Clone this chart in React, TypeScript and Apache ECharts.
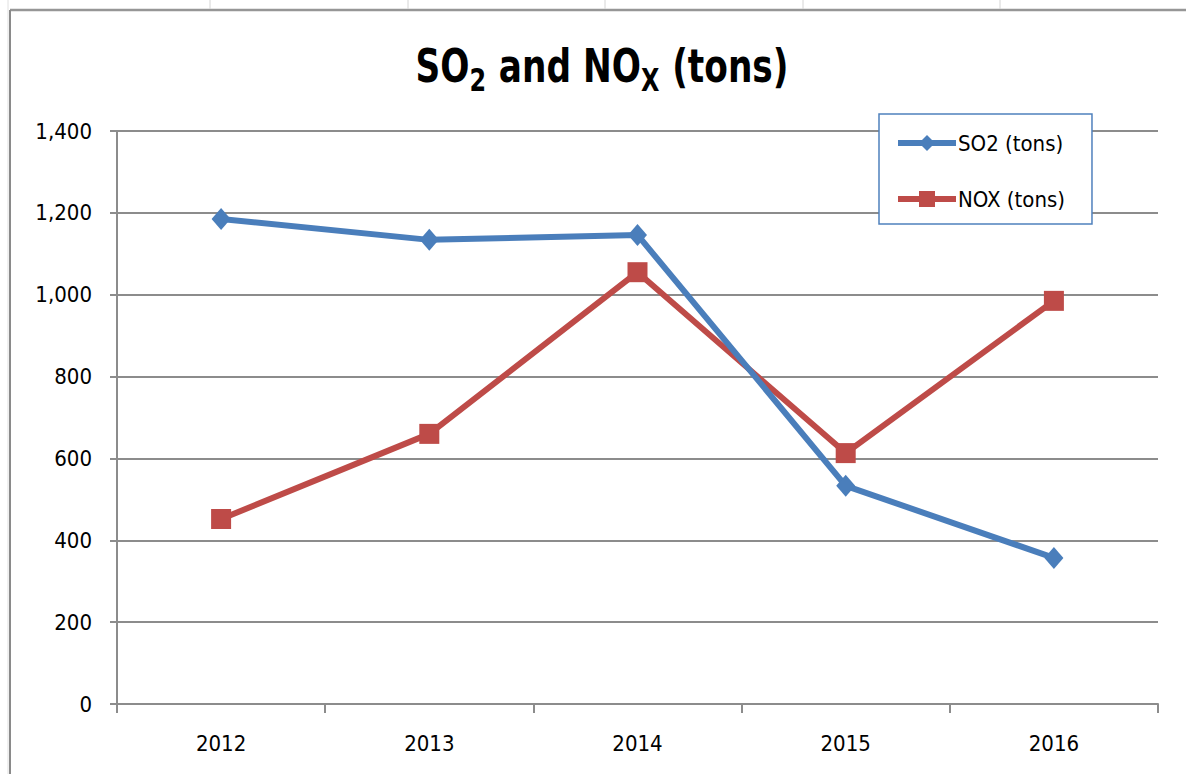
import React, { useEffect, useRef } from "react";
import * as echarts from "echarts";

const years = ["2012", "2013", "2014", "2015", "2016"];
const so2 = [1185, 1134, 1146, 533, 357];
const nox = [452, 660, 1055, 613, 985];
const cellLinesX = [210, 408, 605, 803, 1000];

const FONT = "'DejaVu Sans Condensed', 'DejaVu Sans', sans-serif";

export default function App() {
  const ref = useRef<HTMLDivElement>(null);
  useEffect(() => {
    if (!ref.current) return;
    const chart = echarts.init(ref.current, null, { renderer: "svg" });
    const graphics: any[] = [
      { type: "rect", shape: { x: 0, y: 0, width: 1186, height: 774 }, style: { fill: "#ffffff" }, z: -10 },
      { type: "line", shape: { x1: 10, y1: 10, x2: 1186, y2: 10 }, style: { stroke: "#969696", lineWidth: 2.5 } },
      { type: "line", shape: { x1: 10, y1: 10, x2: 10, y2: 774 }, style: { stroke: "#8a8a8a", lineWidth: 2 } },
      { type: "line", shape: { x1: 8, y1: 0, x2: 8, y2: 774 }, style: { stroke: "#e0e0e0", lineWidth: 1 } },
      ...cellLinesX.map((x) => ({
        type: "line",
        shape: { x1: x, y1: 0, x2: x, y2: 9 },
        style: { stroke: "#d4d4d4", lineWidth: 1 },
      })),
      {
        type: "text",
        x: 602,
        y: 70,
        scaleX: 0.83,
        style: {
          text: "{a|SO}{s|2}{a| and NO}{s|X}{a| (tons)}",
          align: "center",
          verticalAlign: "middle",
          rich: {
            a: { fontFamily: FONT, fontWeight: "bold", fontSize: 46, fill: "#000", verticalAlign: "top" },
            s: { fontFamily: FONT, fontWeight: "bold", fontSize: 32, fill: "#000", verticalAlign: "top", padding: [21, 1, 0, 0] },
          },
        },
      },
    ];
    chart.setOption({
      animation: false,
      backgroundColor: "#ffffff",
      textStyle: { fontFamily: FONT },
      graphic: graphics,
      legend: {
        orient: "vertical",
        left: 879,
        top: 114,
        width: 187,
        padding: [18, 27, 14, 16],
        itemGap: 34,
        itemWidth: 58,
        itemHeight: 20,
        borderColor: "#4f81bd",
        borderWidth: 1.5,
        backgroundColor: "#ffffff",
        lineStyle: { width: 6 },
        textStyle: { fontFamily: FONT, fontSize: 22, color: "#000", padding: [0, 0, 0, -3] },
        data: ["SO2 (tons)", "NOX (tons)"],
      },
      grid: { left: 117, right: 28, top: 131, bottom: 70 },
      xAxis: {
        type: "category",
        data: years,
        boundaryGap: true,
        axisLine: { lineStyle: { color: "#8c8c8c", width: 2 } },
        axisTick: { show: true, length: 9, lineStyle: { color: "#8c8c8c", width: 2 } },
        axisLabel: { color: "#000", fontSize: 22, margin: 28, fontFamily: FONT },
        splitLine: { show: false },
      },
      yAxis: {
        type: "value",
        min: 0,
        max: 1400,
        interval: 200,
        axisLine: { show: true, lineStyle: { color: "#8c8c8c", width: 2 } },
        axisTick: { show: true, length: 7, lineStyle: { color: "#8c8c8c", width: 2 } },
        axisLabel: {
          color: "#000",
          fontSize: 22,
          margin: 25,
          fontFamily: FONT,
          formatter: (v: number) => v.toLocaleString("en-US"),
        },
        splitLine: { lineStyle: { color: "#8c8c8c", width: 2 } },
      },
      series: [
        {
          name: "SO2 (tons)",
          type: "line",
          data: so2,
          symbol: "diamond",
          symbolSize: [19, 22],
          lineStyle: { color: "#4a7ebb", width: 6 },
          itemStyle: { color: "#4a7ebb" },
          z: 3,
        },
        {
          name: "NOX (tons)",
          type: "line",
          data: nox,
          symbol: "rect",
          symbolSize: 20,
          lineStyle: { color: "#be4b48", width: 6 },
          itemStyle: { color: "#be4b48" },
          z: 2,
        },
      ],
    });
    return () => chart.dispose();
  }, []);
  return <div ref={ref} style={{ position: "fixed", left: 0, top: 0, width: 1186, height: 774 }} />;
}
